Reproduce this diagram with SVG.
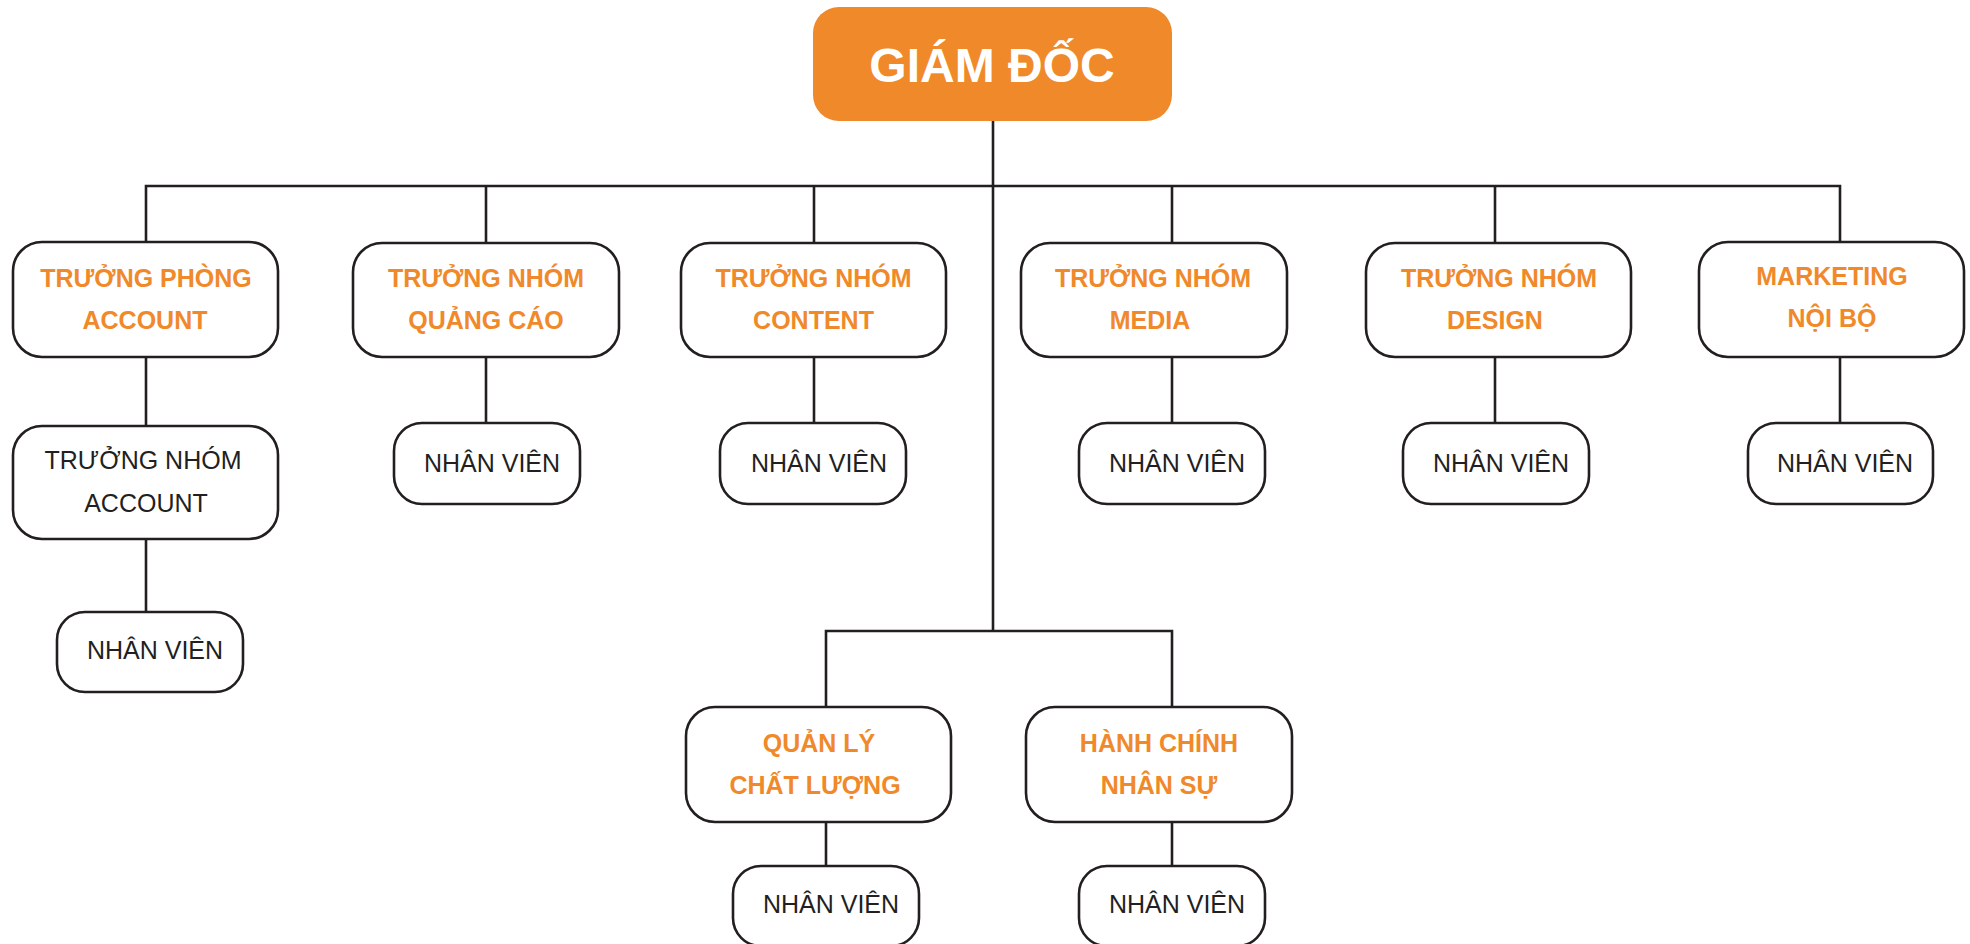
<svg xmlns="http://www.w3.org/2000/svg" width="1970" height="944" viewBox="0 0 1970 944">
<style>
.box{fill:#FFFFFF;stroke:#231F20;stroke-width:2.6}
.ln{fill:none;stroke:#231F20;stroke-width:2.6}
.ot{font-family:"Liberation Sans",Arial,sans-serif;font-weight:bold;font-size:25px;fill:#F0892A;text-anchor:middle}
.bt{font-family:"Liberation Sans",Arial,sans-serif;font-size:25px;fill:#231F20;text-anchor:middle}
.top{font-family:"Liberation Sans",Arial,sans-serif;font-weight:bold;font-size:48px;fill:#FFFFFF;text-anchor:middle}
</style>
<rect width="1970" height="944" fill="#FFFFFF"/>
<g id="connectors">
<polyline class="ln" points="146,242 146,186 1840,186 1840,242"/>
<line class="ln" x1="486" y1="186" x2="486" y2="243"/>
<line class="ln" x1="814" y1="186" x2="814" y2="243"/>
<line class="ln" x1="1172" y1="186" x2="1172" y2="243"/>
<line class="ln" x1="1495" y1="186" x2="1495" y2="243"/>
<line class="ln" x1="993" y1="121" x2="993" y2="631"/>
<polyline class="ln" points="826,707 826,631 1172,631 1172,707"/>
<line class="ln" x1="146" y1="357" x2="146" y2="426"/>
<line class="ln" x1="146" y1="539" x2="146" y2="612"/>
<line class="ln" x1="486" y1="357" x2="486" y2="423"/>
<line class="ln" x1="814" y1="357" x2="814" y2="423"/>
<line class="ln" x1="1172" y1="357" x2="1172" y2="423"/>
<line class="ln" x1="1495" y1="357" x2="1495" y2="423"/>
<line class="ln" x1="1840" y1="357" x2="1840" y2="423"/>
<line class="ln" x1="826" y1="822" x2="826" y2="866"/>
<line class="ln" x1="1172" y1="822" x2="1172" y2="866"/>
</g>
<g id="giam-doc">
<rect x="813" y="7" width="359" height="114" rx="26" fill="#F0892A"/>
<text class="top" x="992" y="82">GIÁM ĐỐC</text>
</g>
<g id="truong-phong-account">
<rect class="box" x="13" y="242" width="265" height="115" rx="29"/>
<text class="ot" x="146" y="287">TRƯỞNG PHÒNG</text>
<text class="ot" x="145" y="329">ACCOUNT</text>
</g>
<g id="truong-nhom-quang-cao">
<rect class="box" x="353" y="243" width="266" height="114" rx="29"/>
<text class="ot" x="486" y="287">TRƯỞNG NHÓM</text>
<text class="ot" x="486" y="329">QUẢNG CÁO</text>
</g>
<g id="truong-nhom-content">
<rect class="box" x="681" y="243" width="265" height="114" rx="29"/>
<text class="ot" x="813.5" y="287">TRƯỞNG NHÓM</text>
<text class="ot" x="813.5" y="329">CONTENT</text>
</g>
<g id="truong-nhom-media">
<rect class="box" x="1021" y="243" width="266" height="114" rx="29"/>
<text class="ot" x="1153" y="287">TRƯỞNG NHÓM</text>
<text class="ot" x="1150" y="329">MEDIA</text>
</g>
<g id="truong-nhom-design">
<rect class="box" x="1366" y="243" width="265" height="114" rx="29"/>
<text class="ot" x="1499" y="287">TRƯỞNG NHÓM</text>
<text class="ot" x="1495" y="329">DESIGN</text>
</g>
<g id="marketing-noi-bo">
<rect class="box" x="1699" y="242" width="265" height="115" rx="29"/>
<text class="ot" x="1832" y="285">MARKETING</text>
<text class="ot" x="1832" y="327">NỘI BỘ</text>
</g>
<g id="truong-nhom-account">
<rect class="box" x="13" y="426" width="265" height="113" rx="29"/>
<text class="bt" x="143" y="469">TRƯỞNG NHÓM</text>
<text class="bt" x="146" y="512">ACCOUNT</text>
</g>
<g id="nv-account">
<rect class="box" x="57" y="612" width="186" height="80" rx="28"/>
<text class="bt" x="155" y="659">NHÂN VIÊN</text>
</g>
<g id="nv-quang-cao">
<rect class="box" x="394" y="423" width="186" height="81" rx="28"/>
<text class="bt" x="492" y="472">NHÂN VIÊN</text>
</g>
<g id="nv-content">
<rect class="box" x="720" y="423" width="186" height="81" rx="28"/>
<text class="bt" x="819" y="472">NHÂN VIÊN</text>
</g>
<g id="nv-media">
<rect class="box" x="1079" y="423" width="186" height="81" rx="28"/>
<text class="bt" x="1177" y="472">NHÂN VIÊN</text>
</g>
<g id="nv-design">
<rect class="box" x="1403" y="423" width="186" height="81" rx="28"/>
<text class="bt" x="1501" y="472">NHÂN VIÊN</text>
</g>
<g id="nv-marketing">
<rect class="box" x="1748" y="423" width="185" height="81" rx="28"/>
<text class="bt" x="1845" y="472">NHÂN VIÊN</text>
</g>
<g id="quan-ly-chat-luong">
<rect class="box" x="686" y="707" width="265" height="115" rx="29"/>
<text class="ot" x="819" y="752">QUẢN LÝ</text>
<text class="ot" x="815" y="794">CHẤT LƯỢNG</text>
</g>
<g id="hanh-chinh-nhan-su">
<rect class="box" x="1026" y="707" width="266" height="115" rx="29"/>
<text class="ot" x="1159" y="752">HÀNH CHÍNH</text>
<text class="ot" x="1159" y="794">NHÂN SỰ</text>
</g>
<g id="nv-chat-luong">
<rect class="box" x="733" y="866" width="186" height="80" rx="28"/>
<text class="bt" x="831" y="913">NHÂN VIÊN</text>
</g>
<g id="nv-hanh-chinh">
<rect class="box" x="1079" y="866" width="186" height="80" rx="28"/>
<text class="bt" x="1177" y="913">NHÂN VIÊN</text>
</g>
</svg>
